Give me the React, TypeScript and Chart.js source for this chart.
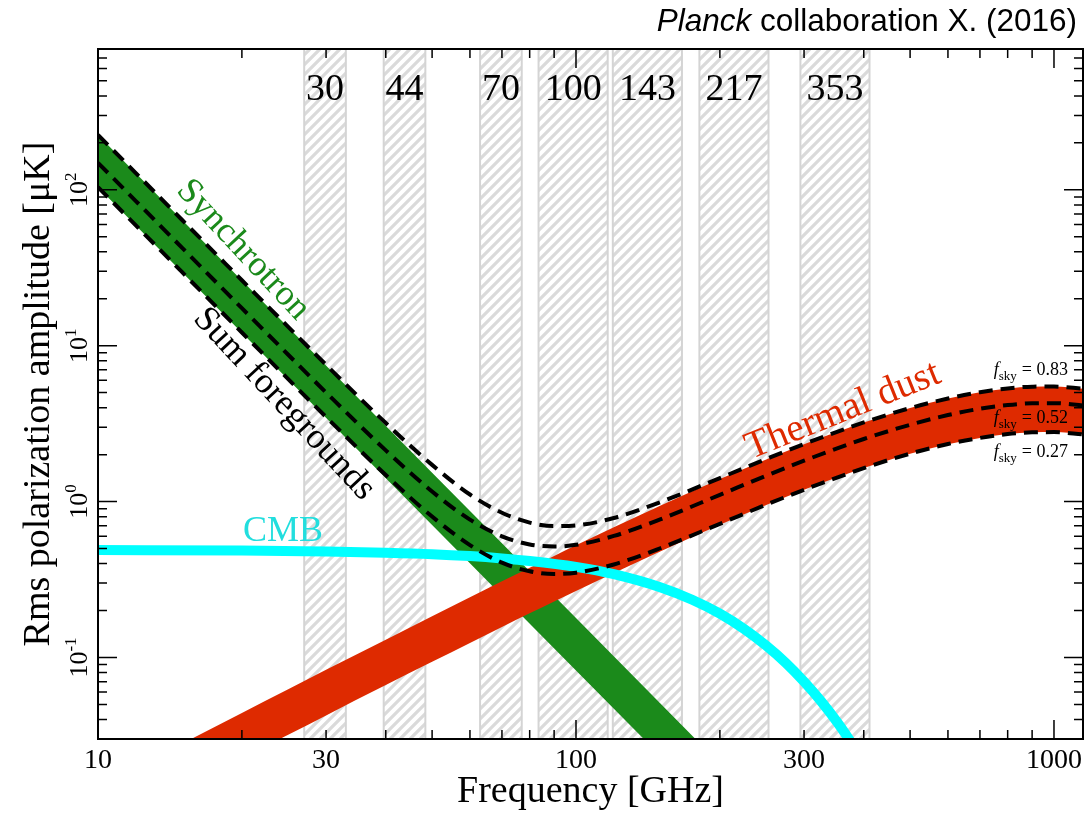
import React, { useEffect, useRef } from 'react';
import { Chart, registerables } from 'chart.js';

Chart.register(...registerables);

// ---------- axes ----------
const X_MIN = 10;
const X_MAX = 1150;
const Y_MIN = 0.03;
const Y_MAX = 800;
const X_TICK_LABELS = [10, 30, 100, 300, 1000];
const Y_TICK_EXPONENTS = [-1, 0, 1, 2];

// ---------- Planck frequency bands (GHz) ----------
const BAND_NAMES = ['30', '44', '70', '100', '143', '217', '353'];
const BAND_LOW = [27, 39.6, 63, 83.5, 119.4, 181.2, 294.8];
const BAND_HIGH = [33, 48.4, 77, 116.5, 166.6, 252.8, 411.2];

// ---------- foreground curves (GHz, µK) ----------
const FREQ = [10, 12, 15, 20, 25, 30, 40, 50, 60, 70, 80, 90, 100, 120, 150, 200, 250, 300, 400, 500, 600, 700, 800, 900, 1000, 1150];

const SYNC_FREQ = [10, 20, 50, 100, 150, 250];
const SYNC_HIGH = [225, 26.2, 1.53, 0.179, 0.0509, 0.0104];
const SYNC_LOW = [104, 12.1, 0.708, 0.0826, 0.0235, 0.00483];

const DUST_HIGH = [0.0147, 0.0197, 0.028, 0.0441, 0.0626, 0.0833, 0.13, 0.184, 0.243, 0.308, 0.376, 0.448, 0.524, 0.684, 0.94, 1.395, 1.865, 2.33, 3.21, 3.98, 4.58, 5.03, 5.32, 5.46, 5.47, 5.3];
const DUST_LOW = [0.0075, 0.01, 0.0143, 0.0225, 0.0319, 0.0425, 0.0665, 0.0938, 0.124, 0.157, 0.192, 0.229, 0.267, 0.348, 0.479, 0.711, 0.95, 1.19, 1.64, 2.03, 2.33, 2.56, 2.71, 2.78, 2.79, 2.7];

const SUM_083 = [225, 128, 64.0, 26.3, 13.2, 7.54, 3.19, 1.72, 1.11, 0.848, 0.733, 0.696, 0.703, 0.785, 0.991, 1.416, 1.875, 2.34, 3.22, 3.98, 4.58, 5.03, 5.32, 5.46, 5.47, 5.3];
const SUM_052 = [149, 84.7, 42.4, 17.4, 8.75, 5.01, 2.13, 1.16, 0.766, 0.599, 0.531, 0.515, 0.528, 0.602, 0.769, 1.105, 1.466, 1.83, 2.52, 3.11, 3.59, 3.94, 4.16, 4.27, 4.28, 4.14];
const SUM_027 = [104, 59.1, 29.6, 12.15, 6.1, 3.49, 1.48, 0.802, 0.526, 0.406, 0.357, 0.343, 0.35, 0.395, 0.502, 0.72, 0.955, 1.19, 1.64, 2.03, 2.34, 2.56, 2.71, 2.78, 2.79, 2.7];

const CMB_FREQ = [10, 20, 30, 40, 50, 60, 70, 80, 100, 120, 150, 175, 200, 225, 250, 275, 300, 325, 353, 375, 400];
const CMB_AMP = [0.489, 0.485, 0.479, 0.47, 0.46, 0.447, 0.432, 0.416, 0.381, 0.342, 0.282, 0.2345, 0.191, 0.152, 0.119, 0.092, 0.07, 0.0528, 0.038, 0.029, 0.0213];

const FSKY_LABELS = ['0.83', '0.52', '0.27'];

// ---------- styles ----------
const SERIF = '"Liberation Serif", "Times New Roman", serif';
const SANS = '"Liberation Sans", Arial, sans-serif';
const GREEN = '#1b8a1b';
const RED = '#de2a00';
const CYAN = '#00ffff';

function drawPow(ctx: CanvasRenderingContext2D, x: number, y: number, exp: number) {
  ctx.save();
  ctx.translate(x, y);
  ctx.rotate(-Math.PI / 2);
  ctx.textAlign = 'left';
  ctx.textBaseline = 'alphabetic';
  ctx.fillStyle = '#000';
  ctx.font = `26px ${SERIF}`;
  const w1 = ctx.measureText('10').width;
  const sup = exp < 0 ? '-' + Math.abs(exp) : String(exp);
  ctx.font = `17px ${SERIF}`;
  const w2 = ctx.measureText(sup).width;
  const start = -(w1 + w2) / 2;
  ctx.font = `26px ${SERIF}`;
  ctx.fillText('10', start, 0);
  ctx.font = `17px ${SERIF}`;
  ctx.fillText(sup, start + w1, -11);
  ctx.restore();
}

function rotText(ctx: CanvasRenderingContext2D, text: string, x: number, y: number, deg: number, font: string, color: string) {
  ctx.save();
  ctx.translate(x, y);
  ctx.rotate((deg * Math.PI) / 180);
  ctx.font = font;
  ctx.fillStyle = color;
  ctx.textAlign = 'center';
  ctx.textBaseline = 'middle';
  ctx.fillText(text, 0, 0);
  ctx.restore();
}

const decorPlugin = {
  id: 'decor',
  beforeDatasetsDraw(chart: any) {
    const { ctx, chartArea: a, scales } = chart;
    const xs = scales.x;
    const h = a.bottom - a.top;
    ctx.save();
    for (let i = 0; i < BAND_LOW.length; i++) {
      const x0 = xs.getPixelForValue(BAND_LOW[i]);
      const x1 = xs.getPixelForValue(BAND_HIGH[i]);
      ctx.save();
      ctx.beginPath();
      ctx.rect(x0, a.top, x1 - x0, h);
      ctx.clip();
      ctx.strokeStyle = '#dadada';
      ctx.lineWidth = 3.2;
      const step = 10;
      for (let s = Math.floor((x0 - h) / step) * step; s < x1 + step; s += step) {
        ctx.beginPath();
        ctx.moveTo(s, a.bottom);
        ctx.lineTo(s + h, a.top);
        ctx.stroke();
      }
      ctx.restore();
      ctx.strokeStyle = '#d4d4d4';
      ctx.lineWidth = 2;
      ctx.strokeRect(x0, a.top, x1 - x0, h);
    }
    ctx.restore();
  },
  afterDatasetsDraw(chart: any) {
    const { ctx, chartArea: a, scales } = chart;
    const xs = scales.x;
    const ys = scales.y;
    ctx.save();

    // ticks
    ctx.strokeStyle = '#000';
    ctx.lineWidth = 1.5;
    const MAJ = 19;
    const MIN = 9;
    for (let d = 1; d <= 3; d++) {
      for (let m = 1; m <= 9; m++) {
        const v = m * Math.pow(10, d);
        if (v < X_MIN || v > X_MAX) continue;
        const px = xs.getPixelForValue(v);
        const L = m === 1 ? MAJ : MIN;
        ctx.beginPath();
        ctx.moveTo(px, a.bottom);
        ctx.lineTo(px, a.bottom - L);
        ctx.moveTo(px, a.top);
        ctx.lineTo(px, a.top + L);
        ctx.stroke();
      }
    }
    for (let d = -2; d <= 2; d++) {
      for (let m = 1; m <= 9; m++) {
        const v = m * Math.pow(10, d);
        if (v < Y_MIN || v > Y_MAX) continue;
        const py = ys.getPixelForValue(v);
        const L = m === 1 ? MAJ : MIN;
        ctx.beginPath();
        ctx.moveTo(a.left, py);
        ctx.lineTo(a.left + L, py);
        ctx.moveTo(a.right, py);
        ctx.lineTo(a.right - L, py);
        ctx.stroke();
      }
    }

    // frame
    ctx.lineWidth = 2;
    ctx.strokeRect(a.left, a.top, a.right - a.left, a.bottom - a.top);

    // x tick labels
    ctx.fillStyle = '#000';
    ctx.font = `28px ${SERIF}`;
    ctx.textAlign = 'center';
    ctx.textBaseline = 'alphabetic';
    for (const v of X_TICK_LABELS) {
      ctx.fillText(String(v), xs.getPixelForValue(v), 768);
    }
    // y tick labels
    for (const e of Y_TICK_EXPONENTS) {
      drawPow(ctx, 87, ys.getPixelForValue(Math.pow(10, e)), e);
    }

    // axis titles
    ctx.font = `38px ${SERIF}`;
    ctx.textAlign = 'center';
    ctx.fillText('Frequency [GHz]', (a.left + a.right) / 2, 802);
    ctx.save();
    ctx.translate(49, (a.top + a.bottom) / 2);
    ctx.rotate(-Math.PI / 2);
    ctx.fillText('Rms polarization amplitude [\u03BCK]', 0, 0);
    ctx.restore();

    // band labels
    ctx.font = `38px ${SERIF}`;
    for (let i = 0; i < BAND_NAMES.length; i++) {
      const c = Math.sqrt(BAND_LOW[i] * BAND_HIGH[i]);
      ctx.fillText(BAND_NAMES[i], xs.getPixelForValue(c), 100);
    }

    // title
    ctx.textAlign = 'left';
    ctx.font = `31.5px ${SANS}`;
    const rest = ' collaboration X. (2016)';
    const wRest = ctx.measureText(rest).width;
    ctx.font = `italic 31.5px ${SANS}`;
    const wP = ctx.measureText('Planck').width;
    const right = 1077;
    ctx.fillText('Planck', right - wRest - wP, 31);
    ctx.font = `31.5px ${SANS}`;
    ctx.fillText(rest, right - wRest, 31);

    // curve labels
    rotText(ctx, 'Synchrotron', 243, 250, 47, `36px ${SERIF}`, GREEN);
    rotText(ctx, 'Sum foregrounds', 284, 404, 47, `36px ${SERIF}`, '#000');
    rotText(ctx, 'Thermal dust', 843, 411, -22, `39px ${SERIF}`, RED);
    ctx.font = `36px ${SERIF}`;
    ctx.fillStyle = '#22dede';
    ctx.textAlign = 'center';
    ctx.fillText('CMB', 283, 541);

    // f_sky labels
    const baselines = [375, 423, 457];
    for (let i = 0; i < FSKY_LABELS.length; i++) {
      const b = baselines[i];
      const rx = 1068;
      ctx.fillStyle = '#000';
      ctx.textAlign = 'left';
      ctx.font = `18px ${SERIF}`;
      const t = '= ' + FSKY_LABELS[i];
      const wt = ctx.measureText(t).width;
      ctx.font = `13px ${SERIF}`;
      const ws = ctx.measureText('sky').width;
      ctx.font = `italic 18px ${SERIF}`;
      const wf = ctx.measureText('f').width;
      const xT = rx - wt;
      const xS = xT - 5 - ws;
      const xF = xS - wf;
      ctx.fillText('f', xF, b);
      ctx.font = `13px ${SERIF}`;
      ctx.fillText('sky', xS, b + 5);
      ctx.font = `18px ${SERIF}`;
      ctx.fillText(t, xT, b);
    }

    ctx.restore();
  },
};

function pts(xs: number[], ys: number[]) {
  return xs.map((x, i) => ({ x, y: ys[i] }));
}

export default function App() {
  const ref = useRef<HTMLCanvasElement>(null);
  useEffect(() => {
    const canvas = ref.current;
    if (!canvas) return;
    const base = { showLine: true, pointRadius: 0, pointHoverRadius: 0 };
    const transparent = 'rgba(0,0,0,0)';
    const dashed = (data: any[]) => ({
      ...base,
      data,
      borderColor: '#000',
      borderWidth: 4,
      borderDash: [14, 8],
      cubicInterpolationMode: 'monotone',
      fill: false,
      order: 0,
    });
    const chart = new Chart(canvas, {
      type: 'scatter',
      data: {
        datasets: [
          dashed(pts(FREQ, SUM_083)),
          dashed(pts(FREQ, SUM_052)),
          dashed(pts(FREQ, SUM_027)),
          {
            ...base,
            data: pts(CMB_FREQ, CMB_AMP),
            borderColor: CYAN,
            borderWidth: 10,
            cubicInterpolationMode: 'monotone',
            fill: false,
            order: 1,
          },
          {
            ...base,
            data: pts(FREQ, DUST_HIGH),
            borderColor: transparent,
            borderWidth: 1,
            backgroundColor: RED,
            cubicInterpolationMode: 'monotone',
            fill: 5,
            order: 2,
          },
          {
            ...base,
            data: pts(FREQ, DUST_LOW),
            borderColor: transparent,
            borderWidth: 1,
            cubicInterpolationMode: 'monotone',
            fill: false,
            order: 2,
          },
          {
            ...base,
            data: pts(SYNC_FREQ, SYNC_HIGH),
            borderColor: transparent,
            borderWidth: 1,
            backgroundColor: GREEN,
            fill: 7,
            order: 3,
          },
          {
            ...base,
            data: pts(SYNC_FREQ, SYNC_LOW),
            borderColor: transparent,
            borderWidth: 1,
            fill: false,
            order: 3,
          },
        ] as any,
      },
      options: {
        animation: false,
        responsive: false,
        devicePixelRatio: 1,
        layout: { padding: { left: 98, right: 4, top: 49, bottom: 75 } },
        scales: {
          x: { type: 'logarithmic', min: X_MIN, max: X_MAX, display: false },
          y: { type: 'logarithmic', min: Y_MIN, max: Y_MAX, display: false },
        },
        plugins: {
          legend: { display: false },
          tooltip: { enabled: false },
        },
      } as any,
      plugins: [decorPlugin],
    });
    return () => chart.destroy();
  }, []);
  return (
    <div style={{ position: 'absolute', left: 0, top: 0, width: 1087, height: 814, background: '#fff' }}>
      <canvas ref={ref} width={1087} height={814} style={{ display: 'block' }} />
    </div>
  );
}
